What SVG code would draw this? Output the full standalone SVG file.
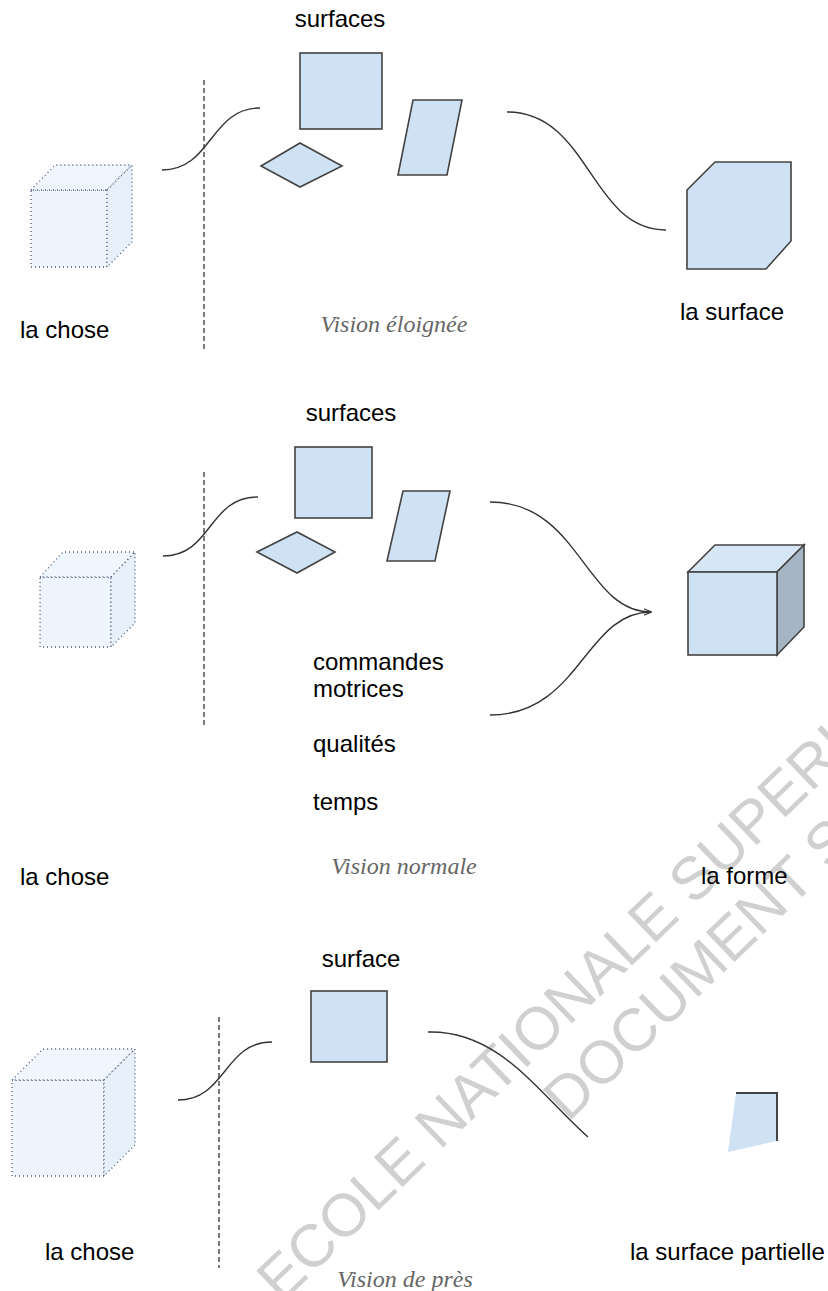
<svg xmlns="http://www.w3.org/2000/svg" width="828" height="1291" viewBox="0 0 828 1291">
<style>
.lbl{font-family:"Liberation Sans",Arial,sans-serif;font-size:24px;fill:#000}
.cap{font-family:"Liberation Serif","Times New Roman",serif;font-style:italic;font-size:24px;fill:#666}
.wm{font-family:"Liberation Sans",Arial,sans-serif;font-size:60px;fill:#d0d0d0}
.shape{fill:#cfe2f3;stroke:#434343;stroke-width:1.6;stroke-linejoin:miter}
.dot{stroke:#4a5878;stroke-width:1.3;stroke-dasharray:1 3;stroke-linejoin:round}
.dfront{fill:#eef5fe}
.dtop{fill:#f0f6fe}
.dside{fill:#e7effa}
.sep{fill:none;stroke:#333;stroke-width:1.3;stroke-dasharray:5 3}
.conn{fill:none;stroke:#333;stroke-width:1.4}
</style>
<defs>
<marker id="arr" viewBox="0 0 10 10" refX="9" refY="5" markerWidth="8" markerHeight="8" orient="auto" markerUnits="userSpaceOnUse">
<path d="M0,1 L10,5 L0,9" fill="none" stroke="#333" stroke-width="1.4"/>
</marker>
</defs>

<g id="watermark">
<text class="wm" transform="translate(281.5,1304) rotate(-44)">ECOLE NATIONALE SUPERI</text>
<text class="wm" transform="translate(568,1123) rotate(-44)">DOCUMENT S</text>
</g>

<g id="separators">
<line class="sep" x1="204" y1="80" x2="204" y2="352"/>
<line class="sep" x1="204" y1="472" x2="204" y2="728"/>
<line class="sep" x1="219" y1="1017" x2="219" y2="1268"/>
</g>

<g id="connectors">
<path class="conn" d="M162,170 C212,170 210,108 260,108"/>
<path class="conn" d="M507,112 C590,112 590,230 666,230"/>
<path class="conn" d="M163,556 C212,556 208,497 258,497"/>
<path class="conn" d="M490,502 C580,502 585,612 651,612" marker-end="url(#arr)"/>
<path class="conn" d="M490,715 C580,715 585,612 651,612"/>
<path class="conn" d="M178,1100 C226,1100 224,1042 272,1042"/>
<path class="conn" d="M428,1032 C500,1030 540,1095 588,1137"/>
</g>

<!-- Section 1 : Vision éloignée -->
<g id="chose1">
<polygon class="dot dfront" points="31,190 107,190 107,267 31,267"/>
<polygon class="dot dtop" points="31,190 55,165 132,165 107,190"/>
<polygon class="dot dside" points="107,190 132,165 132,242 107,267"/>
<text class="lbl" x="20" y="338">la chose</text>
</g>
<g id="surfaces1">
<text class="lbl" x="340" y="27" text-anchor="middle">surfaces</text>
<rect class="shape" x="300" y="53" width="82" height="76"/>
<polygon class="shape" points="261,166 300,143 342,166 300,187"/>
<polygon class="shape" points="413,100 462,100 447,175 398,175"/>
</g>
<g id="surface1">
<polygon class="shape" points="715,162 791,162 791,241 766,269 687,269 687,190"/>
<text class="lbl" x="732" y="320" text-anchor="middle">la surface</text>
</g>
<text id="caption1" class="cap" x="394" y="332" text-anchor="middle">Vision éloignée</text>

<!-- Section 2 : Vision normale -->
<g id="chose2">
<polygon class="dot dfront" points="40,577 111,577 111,647 40,647"/>
<polygon class="dot dtop" points="40,577 63,552 135,552 111,577"/>
<polygon class="dot dside" points="111,577 135,552 135,623 111,647"/>
<text class="lbl" x="20" y="885">la chose</text>
</g>
<g id="surfaces2">
<text class="lbl" x="351" y="421" text-anchor="middle">surfaces</text>
<rect class="shape" x="295" y="447" width="77" height="71"/>
<polygon class="shape" points="257,552 297,532 335,552 297,573"/>
<polygon class="shape" points="403,491 450,491 435,561 387,561"/>
</g>
<g id="commandes">
<text class="lbl" x="313" y="670">commandes</text>
<text class="lbl" x="313" y="697">motrices</text>
<text class="lbl" x="313" y="752">qualités</text>
<text class="lbl" x="313" y="810">temps</text>
</g>
<g id="forme">
<polygon fill="#d7e6f4" stroke="#434343" stroke-width="1.6" points="688,572 715,545 804,545 777,572"/>
<polygon fill="#a5b5c4" stroke="#434343" stroke-width="1.6" points="777,572 804,545 804,627 777,655"/>
<rect class="shape" x="688" y="572" width="89" height="83"/>
<text class="lbl" x="701" y="884">la forme</text>
</g>
<text id="caption2" class="cap" x="404" y="874" text-anchor="middle">Vision normale</text>

<!-- Section 3 : Vision de près -->
<g id="chose3">
<polygon class="dot dfront" points="12,1080 104,1080 104,1176 12,1176"/>
<polygon class="dot dtop" points="12,1080 43,1049 135,1049 104,1080"/>
<polygon class="dot dside" points="104,1080 135,1049 135,1145 104,1176"/>
<text class="lbl" x="45" y="1260">la chose</text>
</g>
<g id="surface3">
<text class="lbl" x="361" y="967" text-anchor="middle">surface</text>
<rect class="shape" x="311" y="991" width="76" height="71"/>
</g>
<g id="partielle">
<polygon fill="#cfe2f3" points="736,1093 777,1093 777,1141 728,1152"/>
<polyline fill="none" stroke="#434343" stroke-width="2" points="736,1093 777,1093 777,1141"/>
<text class="lbl" x="630" y="1260">la surface partielle</text>
</g>
<text id="caption3" class="cap" x="405" y="1287" text-anchor="middle">Vision de près</text>
</svg>
